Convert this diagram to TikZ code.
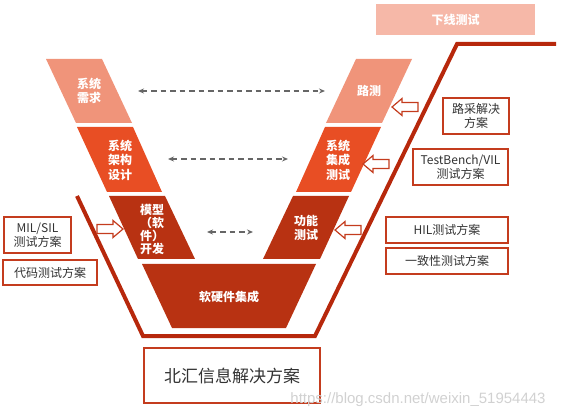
\documentclass[tikz,border=0pt]{standalone}
\usepackage{fontspec}
\setmainfont{Noto Sans CJK SC}
\newfontfamily\wmfont{Liberation Sans}
\usetikzlibrary{arrows.meta}

\definecolor{lightred}{RGB}{240,148,122}
\definecolor{midred}{RGB}{232,78,36}
\definecolor{darkred}{RGB}{184,50,18}
\definecolor{framered}{RGB}{183,40,12}
\definecolor{boxred}{RGB}{196,60,30}
\definecolor{topred}{RGB}{246,184,168}
\definecolor{txtgray}{RGB}{51,51,51}

\tikzset{
  stagetext/.style={text=white,font=\fontsize{12}{14.5}\selectfont\bfseries,align=center,inner sep=0pt},
  planbox/.style={draw=boxred,line width=1.3pt,fill=white,text=txtgray,align=center,
    font=\fontsize{12}{14}\selectfont,inner sep=0pt},
  dasharrow/.style={draw=black!60,line width=1.5pt,dash pattern=on 5.5pt off 4pt,
    {Stealth[length=6pt,width=5pt]}-{Stealth[length=6pt,width=5pt]}},
  frameline/.style={draw=framered,line width=4pt,line join=miter},
  hollow/.pic={
    \draw[boxred,line width=1.2pt,fill=white] (0,-4.5) -- (16,-4.5) -- (16,-8.5) -- (26,0)
      -- (16,8.5) -- (16,4.5) -- (0,4.5) -- cycle;
  }
}

\begin{document}
\begin{tikzpicture}[x=1pt,y=-1pt]
  \useasboundingbox (0,0) rectangle (567,419);

  % left branch of the V
  \fill[lightred] (46,59) -- (102,59) -- (132,123) -- (76,123) -- cycle;
  \fill[midred] (77,127) -- (133,127) -- (162,192) -- (107,192) -- cycle;
  \fill[darkred] (109,196) -- (165,196) -- (195,259) -- (138,259) -- cycle;
  \node[stagetext] (xtxq) at (89,91) {系统\\需求};
  \node[stagetext] (xtjg) at (120,160) {系统\\架构\\设计};
  \node[stagetext,font=\fontsize{12}{13}\selectfont\bfseries] (mxkf) at (152,229) {模型\\（软\\件）\\开发};

  % right branch of the V
  \fill[lightred] (412,59) -- (356,59) -- (326,123) -- (382,123) -- cycle;
  \fill[midred] (381,127) -- (325,127) -- (296,192) -- (351,192) -- cycle;
  \fill[darkred] (349,196) -- (293,196) -- (263,259) -- (320,259) -- cycle;
  \node[stagetext] (lc) at (369,91) {路测};
  \node[stagetext] (xtjc) at (338,160) {系统\\集成\\测试};
  \node[stagetext] (gncs) at (306,228) {功能\\测试};

  % bottom
  \fill[darkred] (142,264) -- (316,264) -- (286,328) -- (172,328) -- cycle;
  \node[stagetext] (rjj) at (229,297) {软硬件集成};

  % dashed links between the branches
  \coordinate (d1l) at (138,91);  \coordinate (d1r) at (325,91);
  \coordinate (d2l) at (168,159); \coordinate (d2r) at (288,159);
  \coordinate (d3l) at (207,232); \coordinate (d3r) at (253,232);
  \draw[dasharrow] (d1l) -- (d1r);
  \draw[dasharrow] (d2l) -- (d2r);
  \draw[dasharrow] (d3l) -- (d3r);

  % frame
  \draw[frameline] (77,196) -- (143,336) -- (315,336) -- (457,44) -- (556,44);

  % hollow arrows
  \pic[rotate=180] at (418,107) {hollow};
  \pic[rotate=180] at (389,164) {hollow};
  \pic[rotate=180] at (361,230) {hollow};
  \pic at (97,229) {hollow};

  % solution boxes
  \node[planbox,minimum width=66pt,minimum height=36pt] (lcfa) at (476,116) {路采解决\\方案};
  \node[planbox,minimum width=95pt,minimum height=36pt] (tbfa) at (460.5,167) {TestBench/VIL\\测试方案};
  \node[planbox,minimum width=122pt,minimum height=26pt] (hilfa) at (447,230) {HIL测试方案};
  \node[planbox,minimum width=122pt,minimum height=26pt] (yzfa) at (447,261) {一致性测试方案};
  \node[planbox,minimum width=67pt,minimum height=36pt] (milfa) at (37.5,235) {MIL/SIL\\测试方案};
  \node[planbox,minimum width=94pt,minimum height=25pt] (dmfa) at (50,272.5) {代码测试方案};
  \node[planbox,minimum width=176pt,minimum height=55pt,font=\fontsize{17}{20}\selectfont] (bhfa) at (232,375.5) {北汇信息解决方案};
  \node[fill=topred,text=white,minimum width=159pt,minimum height=31pt,inner sep=0pt,
    font=\fontsize{12}{14}\selectfont\bfseries] (xxcs) at (455.5,19.5) {下线测试};

  % watermark
  \node[text=black!18,font=\wmfont\fontsize{15}{17}\selectfont,inner sep=0pt] (wm) at (418,400) {https://blog.csdn.net/weixin\_51954443};
\end{tikzpicture}
\end{document}
